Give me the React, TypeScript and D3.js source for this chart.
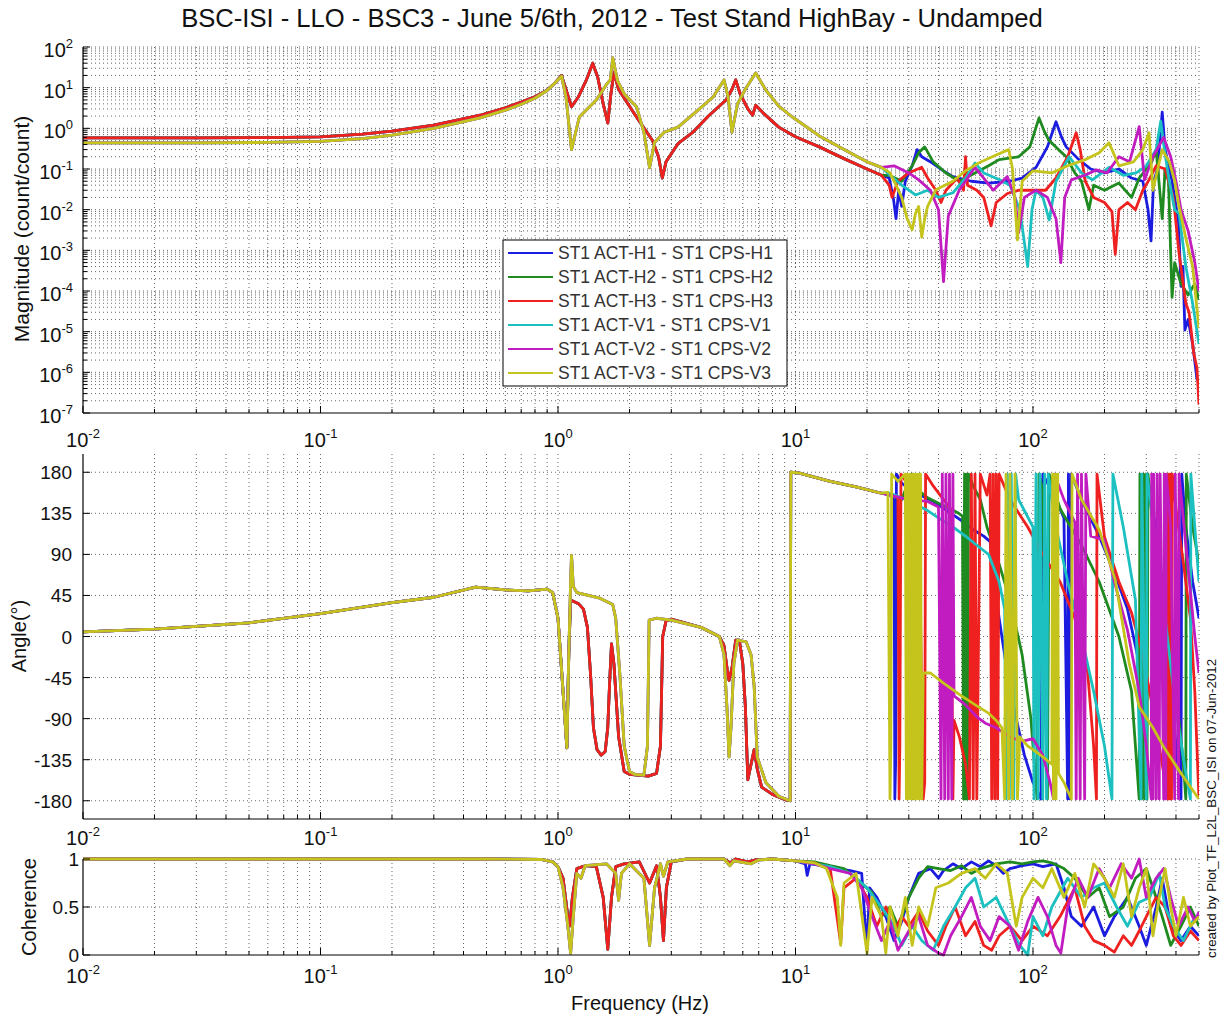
import React from "react";
import * as d3 from "d3";

type Pt = [number, number]; // [frequency (Hz), value]

const seriesNames = [
  "ST1 ACT-H1 - ST1 CPS-H1",
  "ST1 ACT-H2 - ST1 CPS-H2",
  "ST1 ACT-H3 - ST1 CPS-H3",
  "ST1 ACT-V1 - ST1 CPS-V1",
  "ST1 ACT-V2 - ST1 CPS-V2",
  "ST1 ACT-V3 - ST1 CPS-V3",
];
const seriesColors = ["#1c1ce0", "#1f8a1f", "#ee2020", "#1cc0c0", "#c01cc0", "#c4c41c"];

// tick labels
const freqDecades = [0.01, 0.1, 1, 10, 100];
const freqExps = ["-2", "-1", "0", "1", "2"];
const magDecades = [1e-7, 1e-6, 1e-5, 1e-4, 1e-3, 1e-2, 1e-1, 1, 10, 100];
const magExps = ["-7", "-6", "-5", "-4", "-3", "-2", "-1", "0", "1", "2"];
const angleTicks = [-180, -135, -90, -45, 0, 45, 90, 135, 180];
const cohTicks = [0, 0.5, 1];
const cohTickLabels = ["0", "0.5", "1"];

// ---------- magnitude (count/count) ----------
const magLowH: Pt[] = [
  [0.01, 0.58], [0.03, 0.58], [0.06, 0.59], [0.1, 0.62], [0.15, 0.72], [0.2, 0.85], [0.3, 1.2],
  [0.47, 2.1], [0.6, 3.2], [0.7, 4.4], [0.8, 6], [0.9, 8.7], [0.97, 13], [1.035, 20], [1.08, 9],
  [1.14, 3.4], [1.22, 6], [1.32, 16], [1.4, 40], [1.47, 18], [1.55, 4], [1.62, 1.35], [1.67, 7],
  [1.72, 24], [1.8, 9], [2.0, 3.5], [2.14, 1.9], [2.5, 0.5], [2.65, 0.2], [2.75, 0.06], [2.85, 0.15],
  [3.2, 0.42], [3.68, 0.78], [4.3, 2], [5.1, 5], [5.4, 9], [5.6, 15.5], [5.85, 7], [6.3, 3],
  [6.6, 2.1], [6.8, 3.7], [7.3, 2.4], [8.5, 1.07], [10, 0.62], [12.6, 0.35], [16, 0.18], [20, 0.1],
  [23, 0.07],
];
const magLowV: Pt[] = [
  [0.01, 0.44], [0.03, 0.44], [0.06, 0.45], [0.1, 0.48], [0.15, 0.56], [0.2, 0.68], [0.3, 1.0],
  [0.47, 1.8], [0.6, 2.8], [0.7, 3.9], [0.8, 5.5], [0.9, 8.5], [0.97, 13], [1.035, 19], [1.08, 6],
  [1.14, 0.3], [1.23, 1.9], [1.45, 5], [1.6, 12], [1.66, 15.5], [1.7, 54], [1.78, 15], [1.9, 7],
  [2.14, 3.4], [2.3, 0.8], [2.43, 0.107], [2.55, 0.45], [2.8, 0.8], [3.2, 1.07], [3.8, 2.5],
  [4.5, 5.9], [5.0, 15.5], [5.2, 6], [5.4, 0.8], [5.7, 4], [6.2, 10], [6.8, 23], [7.5, 8.7],
  [8.5, 3.5], [9.7, 1.9], [12.6, 0.65], [16, 0.3], [20, 0.15], [23, 0.11],
];
const magHighH1: Pt[] = [
  [24.8, 0.06], [25.8, 0.02], [26.5, 0.006], [27.2, 0.03], [28, 0.012], [29, 0.05], [31, 0.12],
  [32.5, 0.3], [34, 0.2], [37.7, 0.14], [42, 0.09], [46, 0.065], [55, 0.05], [65, 0.045], [80, 0.05],
  [90, 0.06], [103, 0.11], [115, 0.35], [125, 1.45], [132, 0.6], [138, 0.35], [156, 0.17], [175, 0.1],
  [200, 0.08], [230, 0.1], [260, 0.06], [290, 0.05], [305, 0.01], [314, 0.0017], [322, 0.05],
  [335, 0.1], [350, 2.5], [360, 0.3], [385, 0.05], [410, 0.005], [420, 1.3e-4], [428, 4e-4],
  [436, 1.1e-5], [450, 2e-5], [470, 5e-6], [490, 7e-7], [500, 6e-7],
];
const magHighH2: Pt[] = [
  [24.8, 0.07], [28, 0.05], [31, 0.12], [33, 0.25], [35, 0.35], [38, 0.15], [43, 0.08], [49, 0.05],
  [57, 0.08], [65, 0.12], [72, 0.17], [87, 0.2], [97, 0.35], [106, 1.8], [112, 0.8], [117, 0.5],
  [128, 0.3], [138, 0.2], [150, 0.08], [160, 0.05], [172, 0.01], [180, 0.04], [200, 0.03], [230, 0.045],
  [260, 0.02], [280, 0.06], [300, 0.1], [315, 0.14], [330, 0.3], [350, 0.006], [360, 0.1], [372, 0.05],
  [385, 7e-5], [395, 5e-4], [420, 1.5e-4], [450, 8e-5], [480, 1.5e-4], [500, 6e-5],
];
const magHighH3: Pt[] = [
  [24.8, 0.04], [25.5, 0.02], [27, 0.05], [30, 0.08], [34, 0.11], [36, 0.06], [39, 0.03], [41, 0.015],
  [43, 0.03], [48, 0.06], [51, 0.03], [52, 0.2], [53, 0.04], [58, 0.03], [62, 0.02], [66.6, 0.004],
  [70, 0.015], [78, 0.025], [87, 0.03], [100, 0.03], [113, 0.03], [125, 0.06], [140, 0.2], [152, 0.78],
  [158, 0.3], [166, 0.05], [180, 0.02], [200, 0.015], [215, 0.009], [222, 8e-4], [230, 0.01],
  [250, 0.015], [270, 0.01], [290, 0.03], [308, 0.054], [330, 0.12], [360, 0.1], [390, 0.02],
  [412, 8.5e-4], [440, 5e-5], [454, 3e-5], [475, 3e-6], [490, 1.3e-6], [500, 1.6e-7],
];
const magHighV1: Pt[] = [
  [25, 0.07], [28, 0.04], [32, 0.023], [36, 0.03], [40, 0.02], [46, 0.026], [52, 0.06], [57, 0.14],
  [62, 0.08], [72, 0.055], [80, 0.04], [88, 0.01], [95, 4e-4], [99, 0.01], [103, 0.03], [110, 0.02],
  [117, 0.0056], [125, 0.05], [142, 0.2], [160, 0.08], [178, 0.054], [195, 0.08], [209, 0.11],
  [240, 0.07], [272, 0.08], [300, 0.12], [330, 0.3], [345, 1.5], [355, 0.4], [374, 0.054], [395, 0.01],
  [412, 0.008], [440, 4e-4], [470, 5e-5], [500, 5e-6],
];
const magHighV2: Pt[] = [
  [26, 0.12], [30, 0.08], [33, 0.054], [37, 0.03], [40, 0.01], [42, 1.7e-4], [44, 0.007], [49, 0.031],
  [57, 0.11], [62, 0.06], [68, 0.03], [78, 0.065], [84, 0.02], [87, 0.0027], [92, 0.02], [103, 0.03],
  [115, 0.02], [125, 0.006], [131, 5e-4], [136, 0.02], [145, 0.054], [165, 0.07], [185, 0.095],
  [205, 0.08], [230, 0.2], [255, 0.15], [280, 1.1], [295, 0.054], [320, 0.2], [355, 0.6], [380, 0.2],
  [400, 0.05], [420, 0.01], [450, 0.003], [480, 5e-4], [500, 1e-4],
];
const magHighV3: Pt[] = [
  [25, 0.08], [26.5, 0.04], [28, 0.02], [29.5, 0.006], [31, 0.0032], [32, 0.008], [33, 0.012],
  [34, 0.0021], [35, 0.006], [36, 0.012], [39, 0.031], [46, 0.05], [52, 0.09], [59, 0.14], [70, 0.22],
  [79, 0.3], [82, 0.1], [86, 0.0018], [90, 0.05], [100, 0.09], [120, 0.08], [140, 0.12], [166, 0.17],
  [190, 0.25], [209, 0.44], [230, 0.12], [265, 0.15], [290, 0.3], [308, 0.78], [320, 0.03], [335, 0.1],
  [350, 0.3], [375, 0.15], [395, 0.05], [412, 0.012], [440, 0.002], [470, 4e-4], [500, 1.2e-5],
];

// ---------- angle (degrees) ----------
const angLowH: Pt[] = [
  [0.01, 5], [0.02, 8], [0.05, 15], [0.1, 25], [0.2, 37], [0.3, 43], [0.45, 54], [0.6, 51], [0.75, 50],
  [0.9, 52], [0.95, 48], [1.0, 20], [1.05, -60], [1.09, -122], [1.11, -20], [1.13, 40], [1.22, 36],
  [1.28, 30], [1.33, 10], [1.37, -40], [1.41, -100], [1.46, -124], [1.52, -130], [1.58, -126],
  [1.62, -100], [1.65, -50], [1.68, -8], [1.72, -30], [1.8, -110], [1.9, -148], [2.0, -151],
  [2.4, -153], [2.6, -150], [2.7, -120], [2.76, 0], [2.85, 17], [3.0, 19], [4.0, 10], [4.78, 0],
  [5.0, -10], [5.15, -35], [5.25, -48], [5.4, -35], [5.6, -4], [5.8, -4], [6.0, -30], [6.15, -77],
  [6.3, -157], [6.5, -140], [6.7, -124], [6.9, -145], [7.2, -165], [8.0, -173], [9.1, -179], [9.5, -180],
];
const angLowV: Pt[] = [
  [0.01, 5], [0.02, 8], [0.05, 15], [0.1, 25], [0.2, 37], [0.3, 43], [0.45, 54], [0.6, 51], [0.75, 50],
  [0.9, 52], [0.95, 48], [1.0, 20], [1.05, -60], [1.09, -122], [1.11, -20], [1.13, 60], [1.14, 89],
  [1.16, 55], [1.2, 48], [1.5, 42], [1.7, 35], [1.75, 20], [1.82, -40], [1.9, -120], [2.0, -148],
  [2.1, -151], [2.3, -152], [2.38, -120], [2.42, 18], [2.6, 20], [3.0, 18], [4.0, 10], [4.78, 0],
  [5.0, -20], [5.15, -80], [5.25, -132], [5.35, -100], [5.5, -30], [5.7, -4], [6.2, -6], [6.5, -20],
  [6.7, -55], [6.9, -132], [7.5, -160], [8.5, -175], [9.5, -180],
];
const angMid: Pt[] = [[9.55, 180], [10.4, 179], [14, 170], [18, 164], [23, 157]];
const angHighH1: Pt[] = [
  [25, 155], [26, 150], [26.2, -178], [26.4, -140], [26.6, 178], [28, 168], [30, 162], [33, 156],
  [38, 148], [44, 137], [50, 127], [56, 117], [62, 110], [66, 104], [68, 70], [72, 20], [78, -40],
  [85, -90], [92, -130], [100, -160], [108, -178], [110, 178], [125, 150], [135, 130], [140, -178],
  [141, 178], [143, -178], [145, 178], [160, 150], [190, 110], [220, 70], [250, 30], [275, -20],
  [290, -90], [300, -178], [302, 178], [320, 140], [350, 60], [380, -40], [400, -120], [420, -178],
  [423, 178], [440, 120], [470, 60], [500, 20],
];
const angHighH2: Pt[] = [
  [25, 156], [28, 150], [30.8, 178], [31, -178], [31.3, 178], [33, 160], [36, 152], [40, 146],
  [44, 141], [48, 136], [50.5, 132], [51, -178], [51.5, 178], [52, -178], [52.5, 178], [53, -178],
  [53.5, 178], [56, 165], [60, 150], [64, 120], [70, 90], [80, 40], [90, -20], [98, -90], [104, -178],
  [106, 178], [110, 160], [115, -178], [117, 178], [130, 140], [160, 100], [190, 60], [230, 0],
  [260, -60], [280, -178], [282, 178], [287, -178], [290, 178], [295, -178], [298, 178], [302, -178],
  [305, 178], [320, 120], [360, 40], [400, -60], [430, -140], [440, -178], [442, 178], [470, 120],
  [500, 80],
];
const angHighH3: Pt[] = [
  [25, 156], [27, 152], [27.3, -178], [27.5, -120], [27.8, 178], [30, 165], [33, 155], [34.5, -178],
  [35, -160], [35.3, 178], [38, 165], [42, 150], [45, 140], [46, -178], [46.5, -92], [49, -110],
  [52, -140], [54, -178], [55, 178], [56, -178], [57, 178], [58, -178], [60, 178], [64, 155], [66, 178],
  [67, -178], [68, 178], [69, -178], [70, 178], [71, -178], [72, 178], [80, 150], [95, 120], [110, 90],
  [130, 60], [150, 20], [170, -40], [180, -120], [185, -178], [186, 178], [200, 109], [230, 60],
  [260, 26], [290, -20], [320, -80], [350, -140], [370, -178], [372, 178], [376, -178], [380, 178],
  [383, -178], [386, 178], [400, 140], [430, 80], [460, 20], [480, -60], [495, -150], [500, -178],
];
const angHighV1: Pt[] = [
  [25, 157], [28, 152], [32, 145], [36, 138], [40, 130], [46, 120], [52, 110], [58, 100], [65, 90],
  [72, 60], [76, 30], [77, -178], [78, 178], [79.5, -178], [81, 178], [83, -178], [84.5, 178], [87, 150],
  [100, 120], [101, -178], [103, 178], [105, -178], [107, 178], [110, -178], [112, 178], [114, -178],
  [116, 178], [125, 120], [140, 60], [160, 0], [180, -60], [200, -120], [215, -178], [217, 178],
  [240, 120], [270, 40], [285, -178], [287, 178], [300, -178], [302, 178], [330, 100], [360, 20],
  [400, -80], [440, -150], [460, -178], [462, 178], [480, 120], [500, 60],
];
const angHighV2: Pt[] = [
  [25, 155], [30, 150], [36, 148], [40, 142], [41, -178], [41.5, 178], [42.5, -178], [43, 178],
  [44, -178], [44.5, 178], [45.5, -178], [46, 178], [46.5, -65], [52, -75], [58, -88], [63, -95],
  [70, -100], [80, -110], [90, -115], [100, -112], [110, -130], [118, -160], [122, -178], [123, 178],
  [135, 150], [150, 125], [152, -178], [154, 178], [158, -178], [160, 178], [165, -178], [167, 178],
  [175, 110], [200, 106], [220, 60], [250, 7], [280, -60], [300, -120], [315, -178], [316, 178],
  [320, -178], [322, 178], [330, -178], [333, 178], [340, -178], [343, 178], [355, -178], [357, 178],
  [362, -178], [364, 178], [380, 120], [395, -178], [397, 178], [410, -178], [412, 178], [440, 100],
  [480, 0], [500, -40],
];
const angHighV3: Pt[] = [
  [24.5, 158], [25, -178], [25.2, -120], [25.4, 178], [27, 170], [29, 178], [29.3, -178], [29.6, 178],
  [30, -178], [30.4, 178], [30.8, -178], [31.2, 178], [31.6, -178], [32, 178], [32.4, -178],
  [32.8, 178], [33.2, -178], [33.6, 178], [34, -178], [34.5, -40], [37, -40], [42, -51], [50, -65],
  [58, -76], [65, -84], [70, -92], [74, -100], [76, -178], [77, 178], [79, -178], [80, 178], [82, -178],
  [84, 178], [86, -178], [88, -110], [95, -120], [100, -124], [110, -132], [120, -140], [121, 178],
  [122, -178], [124, 178], [125, -178], [127, 178], [128, -150], [135, -160], [145, -178], [146, 178],
  [160, 150], [190, 117], [222, 62], [254, -29], [280, -77], [320, -100], [355, -121], [420, -150],
  [490, -175], [500, -178],
];

// ---------- coherence ----------
const cohLow: Pt[] = [[0.01, 1], [0.5, 1], [0.85, 0.995], [0.95, 0.97]];
const cohMidH: Pt[] = [
  [1.0, 0.92], [1.05, 0.8], [1.1, 0.4], [1.12, 0.3], [1.15, 0.6], [1.2, 0.9], [1.3, 0.93], [1.45, 0.92],
  [1.55, 0.6], [1.62, 0.06], [1.68, 0.6], [1.75, 0.92], [1.9, 0.95], [2.2, 0.97], [2.43, 0.75],
  [2.6, 0.93], [2.7, 0.6], [2.78, 0.15], [2.86, 0.7], [3.0, 0.97], [3.5, 1], [5, 1], [5.3, 0.96],
  [5.6, 1], [6.3, 0.97], [6.8, 0.99], [8, 1], [10, 0.98],
];
const cohMidV: Pt[] = [
  [1.0, 0.92], [1.05, 0.7], [1.1, 0.3], [1.13, 0.02], [1.16, 0.4], [1.2, 0.85], [1.25, 0.8], [1.3, 0.93],
  [1.6, 0.95], [1.75, 0.85], [1.8, 0.57], [1.85, 0.85], [2.0, 0.95], [2.3, 0.8], [2.43, 0.1], [2.55, 0.7],
  [2.7, 0.95], [2.78, 0.82], [2.9, 0.97], [3.5, 1], [5, 1], [5.3, 0.93], [5.5, 0.98], [6.5, 0.95],
  [7, 0.99], [8, 1], [10, 0.98],
];
const cohHighH1: Pt[] = [
  [11, 0.95], [11.2, 0.83], [11.5, 0.95], [13, 0.93], [15, 0.9], [17, 0.88], [19, 0.85], [20, 0.05],
  [20.5, 0.7], [22, 0.6], [24, 0.4], [26, 0.15], [28, 0.35], [30, 0.6], [33, 0.85], [37, 0.9],
  [40, 0.8], [42, 0.88], [46, 0.95], [50, 0.9], [55, 0.97], [60, 0.92], [65, 0.98], [70, 0.93],
  [75, 0.85], [80, 0.9], [90, 0.93], [100, 0.95], [110, 0.92], [125, 0.95], [135, 0.7], [145, 0.4],
  [160, 0.3], [180, 0.5], [200, 0.2], [220, 0.4], [250, 0.6], [280, 0.3], [300, 0.1], [330, 0.5],
  [350, 0.8], [380, 0.3], [420, 0.15], [460, 0.3], [500, 0.2],
];
const cohHighH2: Pt[] = [
  [12, 0.97], [14, 0.93], [16, 0.9], [18, 0.8], [21, 0.65], [23, 0.4], [25, 0.5], [27, 0.3], [30, 0.6],
  [33, 0.8], [36, 0.92], [40, 0.9], [45, 0.88], [50, 0.93], [55, 0.85], [60, 0.9], [70, 0.95], [80, 0.97],
  [90, 0.95], [100, 0.97], [110, 0.98], [120, 0.96], [135, 0.9], [150, 0.8], [170, 0.6], [190, 0.7],
  [210, 0.4], [240, 0.5], [270, 0.8], [300, 0.9], [320, 0.7], [350, 0.4], [380, 0.1], [420, 0.3],
  [460, 0.5], [500, 0.3],
];
const cohHighH3: Pt[] = [
  [12, 0.96], [14, 0.9], [15.5, 0.12], [16, 0.7], [18, 0.8], [20, 0.6], [22, 0.3], [24, 0.5], [26, 0.25],
  [28, 0.4], [30, 0.3], [33, 0.45], [36, 0.25], [40, 0.1], [43, 0.3], [47, 0.5], [52, 0.2], [57, 0.35],
  [62, 0.1], [67, 0.05], [72, 0.2], [80, 0.3], [90, 0.15], [100, 0.3], [115, 0.2], [130, 0.4],
  [150, 0.7], [165, 0.3], [180, 0.15], [200, 0.1], [220, 0.03], [240, 0.2], [260, 0.1], [280, 0.25],
  [300, 0.4], [330, 0.6], [360, 0.5], [390, 0.2], [420, 0.1], [460, 0.25], [500, 0.15],
];
const cohHighV1: Pt[] = [
  [12, 0.95], [14, 0.92], [17, 0.85], [20, 0.7], [23, 0.5], [26, 0.3], [28, 0.1], [31, 0.3], [34, 0.15],
  [38, 0.05], [42, 0.3], [47, 0.5], [52, 0.7], [57, 0.8], [62, 0.5], [70, 0.6], [80, 0.3], [88, 0.1],
  [95, 0.0], [100, 0.4], [110, 0.2], [120, 0.5], [140, 0.8], [160, 0.6], [180, 0.7], [200, 0.75],
  [225, 0.5], [250, 0.3], [280, 0.55], [310, 0.6], [340, 0.85], [360, 0.5], [390, 0.3], [430, 0.15],
  [470, 0.35], [500, 0.4],
];
const cohHighV2: Pt[] = [
  [12, 0.95], [14, 0.9], [17, 0.85], [19, 0.7], [21, 0.4], [23, 0.15], [25, 0.35], [27, 0.05], [30, 0.25],
  [33, 0.4], [36, 0.1], [40, 0.02], [42, 0.0], [45, 0.2], [50, 0.4], [55, 0.6], [60, 0.3], [66, 0.15],
  [72, 0.4], [80, 0.3], [87, 0.05], [95, 0.35], [105, 0.6], [115, 0.4], [125, 0.1], [131, 0.02],
  [140, 0.5], [155, 0.8], [170, 0.6], [190, 0.9], [210, 0.7], [235, 0.95], [260, 0.8], [280, 1.0],
  [300, 0.6], [330, 0.8], [355, 0.9], [380, 0.6], [410, 0.3], [450, 0.5], [480, 0.35], [500, 0.45],
];
const cohHighV3: Pt[] = [
  [12, 0.96], [13.5, 0.9], [15, 0.6], [15.5, 0.1], [16, 0.75], [18, 0.85], [20, 0.02], [21, 0.6],
  [23, 0.4], [24, 0.02], [25, 0.5], [27, 0.2], [29, 0.6], [31, 0.1], [33, 0.5], [36, 0.3], [39, 0.7],
  [44, 0.75], [50, 0.85], [57, 0.9], [63, 0.8], [70, 0.95], [78, 0.85], [85, 0.3], [90, 0.6], [100, 0.8],
  [110, 0.7], [120, 0.9], [135, 0.6], [150, 0.85], [165, 0.5], [180, 0.95], [200, 0.8], [220, 0.6],
  [240, 0.95], [260, 0.4], [280, 0.7], [300, 0.9], [320, 0.2], [340, 0.6], [360, 0.9], [380, 0.5],
  [400, 0.2], [430, 0.6], [460, 0.3], [500, 0.4],
];

const magnitude: Pt[][] = [
  [...magLowH, ...magHighH1], [...magLowH, ...magHighH2], [...magLowH, ...magHighH3],
  [...magLowV, ...magHighV1], [...magLowV, ...magHighV2], [...magLowV, ...magHighV3],
];
const angle: Pt[][] = [
  [...angLowH, ...angMid, ...angHighH1], [...angLowH, ...angMid, ...angHighH2],
  [...angLowH, ...angMid, ...angHighH3], [...angLowV, ...angMid, ...angHighV1],
  [...angLowV, ...angMid, ...angHighV2], [...angLowV, ...angMid, ...angHighV3],
];
const coherence: Pt[][] = [
  [...cohLow, ...cohMidH, ...cohHighH1], [...cohLow, ...cohMidH, ...cohHighH2],
  [...cohLow, ...cohMidH, ...cohHighH3], [...cohLow, ...cohMidV, ...cohHighV1],
  [...cohLow, ...cohMidV, ...cohHighV2], [...cohLow, ...cohMidV, ...cohHighV3],
];

const font = '"Liberation Sans", Arial, Helvetica, sans-serif';
const X0 = 83;
const X1 = 1199;
const gridStyle = { stroke: "#555", strokeWidth: 0.9, strokeDasharray: "1 3" };

export default function App() {
  const x = d3.scaleLog().domain([0.01, 500]).range([X0, X1]);
  const xAll = x.ticks();
  const isDecade = (v: number) => Math.abs(Math.log10(v) - Math.round(Math.log10(v))) < 1e-6;

  const yMag = d3.scaleLog().domain([1e-7, 1e2]).range([413, 47]);
  const yAng = d3.scaleLinear().domain([-200, 200]).range([819, 454]);
  const yCoh = d3.scaleLinear().domain([0, 1]).range([955, 859]);
  const magAll = yMag.ticks();

  const renderPanel = (
    id: string,
    y: (v: number) => number,
    top: number,
    bottom: number,
    data: Pt[][],
    yGrid: number[],
    yMajor: number[],
    yMinor: number[],
    labelBase: number
  ) => {
    const line = d3
      .line<Pt>()
      .x((d) => x(d[0]))
      .y((d) => y(d[1]));
    return (
      <g key={id}>
        <defs>
          <clipPath id={id}>
            <rect x={X0} y={top - 2} width={X1 - X0} height={bottom - top + 4} />
          </clipPath>
        </defs>
        {/* grid */}
        {xAll
          .filter((v) => v > 0.0100001)
          .map((v) => (
            <line key={"gx" + v} x1={x(v)} x2={x(v)} y1={top} y2={bottom} {...gridStyle} />
          ))}
        {yGrid.map((v) => (
          <line key={"gy" + v} x1={X0} x2={X1} y1={y(v)} y2={y(v)} {...gridStyle} />
        ))}
        {/* series */}
        <g clipPath={`url(#${id})`}>
          {data.map((s, i) => (
            <path
              key={i}
              d={line(s) || ""}
              fill="none"
              stroke={seriesColors[i]}
              strokeWidth={2.8}
              strokeLinejoin="round"
            />
          ))}
        </g>
        {/* axes */}
        <line x1={X0} x2={X0} y1={top} y2={bottom} stroke="#000" strokeWidth={1.2} />
        <line x1={X0} x2={X1} y1={bottom} y2={bottom} stroke="#000" strokeWidth={1.2} />
        {xAll.map((v) => (
          <line
            key={"tx" + v}
            x1={x(v)}
            x2={x(v)}
            y1={bottom}
            y2={bottom - (isDecade(v) ? 7 : 4)}
            stroke="#000"
          />
        ))}
        {yMajor.map((v) => (
          <line key={"ty" + v} x1={X0} x2={X0 + 7} y1={y(v)} y2={y(v)} stroke="#000" />
        ))}
        {yMinor.map((v) => (
          <line key={"tm" + v} x1={X0} x2={X0 + 4} y1={y(v)} y2={y(v)} stroke="#000" />
        ))}
        {freqDecades.map((v, i) => (
          <text key={"lx" + v} x={x(v)} y={labelBase} textAnchor="middle" fontSize={20} fill="#111">
            10
            <tspan dy={-9} fontSize={13}>
              {freqExps[i]}
            </tspan>
          </text>
        ))}
      </g>
    );
  };

  return (
    <svg
      width={1225}
      height={1019}
      style={{ position: "absolute", left: 0, top: 0, background: "#fff" }}
      fontFamily={font}
    >
      <rect x={0} y={0} width={1225} height={1019} fill="#fff" />
      <text x={612} y={27} textAnchor="middle" fontSize={25.6} fill="#111">
        BSC-ISI - LLO - BSC3 - June 5/6th, 2012 - Test Stand HighBay - Undamped
      </text>

      {renderPanel(
        "clipMag",
        yMag,
        47,
        413,
        magnitude,
        magAll.filter((v) => v > 1.0001e-7),
        magDecades,
        magAll.filter((v) => !isDecade(v)),
        447
      )}
      {magDecades.map((v, i) => (
        <text key={"lm" + v} x={73} y={yMag(v) + 10} textAnchor="end" fontSize={20} fill="#111">
          10
          <tspan dy={-9} fontSize={13}>
            {magExps[i]}
          </tspan>
        </text>
      ))}

      {renderPanel("clipAng", yAng, 454, 819, angle, angleTicks, angleTicks, [], 845)}
      {angleTicks.map((v) => (
        <text key={"la" + v} x={72} y={yAng(v) + 7} textAnchor="end" fontSize={19} fill="#111">
          {v}
        </text>
      ))}

      {renderPanel("clipCoh", yCoh, 859, 955, coherence, [0.5, 1], cohTicks, [], 983)}
      {cohTicks.map((v, i) => (
        <text key={"lc" + v} x={79} y={yCoh(v) + 7} textAnchor="end" fontSize={19} fill="#111">
          {cohTickLabels[i]}
        </text>
      ))}

      {/* axis labels */}
      <text transform="translate(29,229) rotate(-90)" textAnchor="middle" fontSize={21} fill="#111">
        Magnitude (count/count)
      </text>
      <text transform="translate(26,636) rotate(-90)" textAnchor="middle" fontSize={20} fill="#111">
        Angle(°)
      </text>
      <text transform="translate(36,907) rotate(-90)" textAnchor="middle" fontSize={20} fill="#111">
        Coherence
      </text>
      <text x={640} y={1010} textAnchor="middle" fontSize={20} fill="#111">
        Frequency (Hz)
      </text>
      <text transform="translate(1216,958) rotate(-90)" textAnchor="start" fontSize={13.4} fill="#111">
        created by Plot_TF_L2L_BSC_ISI on 07-Jun-2012
      </text>

      {/* legend */}
      <g>
        <rect x={503} y={240} width={284} height={146} fill="#fff" stroke="#000" strokeWidth={1} />
        {seriesNames.map((name, i) => {
          const ly = 253 + i * 24;
          return (
            <g key={name}>
              <line x1={508} x2={553} y1={ly} y2={ly} stroke={seriesColors[i]} strokeWidth={2.2} />
              <text x={558} y={ly + 6} fontSize={17.5} fill="#333">
                {name}
              </text>
            </g>
          );
        })}
      </g>
    </svg>
  );
}
